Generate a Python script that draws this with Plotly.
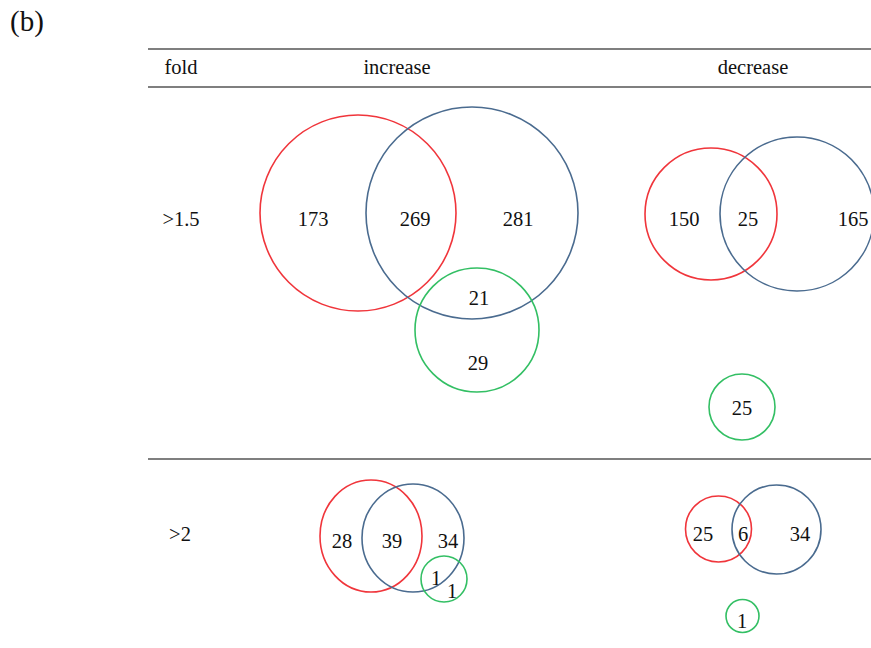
import plotly.graph_objects as go

# ---- data ----
fold_labels = [">1.5", ">2"]
directions = ["increase", "decrease"]
inc15_counts = ["173", "269", "281", "21", "29"]
dec15_counts = ["150", "25", "165", "25"]
inc2_counts = ["28", "39", "34", "1", "1"]
dec2_counts = ["25", "6", "34", "1"]

# ---- layout geometry (pixel space) ----
W, H = 871, 648
RED, BLUE, GREEN = "#f0353b", "#4a6b8f", "#33bf64"

circles = [
    # increase >1.5
    (358, 213, 98, 98, RED), (472, 213, 106, 106, BLUE), (477, 330, 62, 62, GREEN),
    # decrease >1.5
    (711, 214, 66, 66, RED), (797, 214, 77, 77, BLUE), (742, 407, 33, 33, GREEN),
    # increase >2
    (371, 536, 51, 56, RED), (413, 538, 51, 54, BLUE), (444, 579, 23, 23, GREEN),
    # decrease >2
    (718.5, 529, 33, 33, RED), (776.5, 529.5, 44.5, 44.5, BLUE), (742.5, 616, 16.5, 16.5, GREEN),
]

label_pos = {
    "inc15": [(313, 221), (415, 221), (518, 221), (479, 300), (478, 365)],
    "dec15": [(684, 221), (748, 221), (853, 221), (742, 410)],
    "inc2": [(342, 543), (392, 543), (448, 543), (436, 580), (452, 593)],
    "dec2": [(703, 536), (743, 536), (800, 536), (742, 623)],
}
counts = {"inc15": inc15_counts, "dec15": dec15_counts, "inc2": inc2_counts, "dec2": dec2_counts}

FONT = "Liberation Serif"

fig = go.Figure()

for key in ["inc15", "dec15", "inc2", "dec2"]:
    xs = [p[0] for p in label_pos[key]]
    ys = [p[1] for p in label_pos[key]]
    fig.add_trace(go.Scatter(x=xs, y=ys, mode="text", text=counts[key],
                             textfont=dict(family=FONT, size=20.5, color="#111"),
                             hoverinfo="skip", showlegend=False))

# header and row labels
hdr_x = [181, 397, 753]
hdr_y = [69, 69, 69]
fig.add_trace(go.Scatter(x=hdr_x, y=hdr_y, mode="text", text=["fold"] + directions,
                         textfont=dict(family=FONT, size=20.5, color="#111"),
                         hoverinfo="skip", showlegend=False))
fig.add_trace(go.Scatter(x=[181, 180], y=[221, 536], mode="text", text=fold_labels,
                         textfont=dict(family=FONT, size=20.5, color="#111"),
                         hoverinfo="skip", showlegend=False))
fig.add_trace(go.Scatter(x=[27], y=[24], mode="text", text=["(b)"],
                         textfont=dict(family=FONT, size=29, color="#111"),
                         hoverinfo="skip", showlegend=False))

shapes = []
for cx, cy, rx, ry, col in circles:
    shapes.append(dict(type="circle", xref="x", yref="y",
                       x0=cx - rx, x1=cx + rx, y0=cy - ry, y1=cy + ry,
                       line=dict(color=col, width=1.6), fillcolor="rgba(0,0,0,0)"))
for yl in [49, 87, 459]:
    shapes.append(dict(type="line", xref="x", yref="y", x0=148, x1=W, y0=yl, y1=yl,
                       line=dict(color="#555555", width=1.5)))

fig.update_layout(
    width=W, height=H,
    margin=dict(l=0, r=0, t=0, b=0),
    paper_bgcolor="white", plot_bgcolor="white",
    shapes=shapes,
    xaxis=dict(range=[0, W], visible=False, fixedrange=True),
    yaxis=dict(range=[H, 0], visible=False, fixedrange=True),
)

fig.write_html("out.html")
